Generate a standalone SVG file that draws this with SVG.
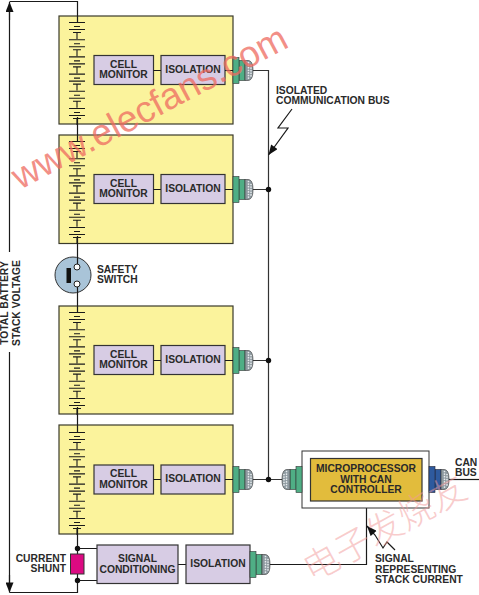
<svg xmlns="http://www.w3.org/2000/svg" width="479" height="595" viewBox="0 0 479 595">
<style>
text{font-family:"Liberation Sans",Arial,sans-serif;font-weight:bold;font-size:10.300px;fill:#2a2a2a}
.m{text-anchor:middle}
.e{text-anchor:end}
.mod{fill:#FBF39C;stroke:#3a3a2a;stroke-width:1.200}
.pb{fill:#D7CCE4;stroke:#333;stroke-width:1.200}
.w{fill:none;stroke:#1a1a1a;stroke-width:1.200}
.cl{stroke:#1a1a1a;stroke-width:1.100;fill:none}
.bus{fill:none;stroke:#333;stroke-width:1.200}
.dot{fill:#111}
.dome{fill:#8E9AA0;stroke:#333;stroke-width:.6}
.dots{stroke:#e8ecee;stroke-width:1.700;stroke-dasharray:0 2.600;stroke-linecap:round;fill:none}
text.wm{font-family:"Liberation Sans",Arial,sans-serif;font-weight:normal;font-size:37px;fill:#EE6A60;fill-opacity:.75}
text.wc{font-family:"Noto Sans CJK SC",sans-serif;font-weight:200;font-size:36px;fill:#F29A9A;fill-opacity:.5}
</style>
<defs>
<g id="cell">
<path class="cl" d="M69 0.500H85M74 4.500H80M69 7.500H85M73 10.500H81M77 10.500V17"/>
</g>
<g id="cells">
<use href="#cell" y="0"/><use href="#cell" y="17.200"/><use href="#cell" y="34.400"/><use href="#cell" y="51.600"/><use href="#cell" y="68.800"/><use href="#cell" y="86"/>
</g>
<g id="conn">
<rect x="6" y="-10" width="6" height="20" fill="#4FAE85" stroke="#333" stroke-width=".6"/>
<rect x="0" y="-13" width="6" height="26" fill="#4FAE85" stroke="#333" stroke-width=".6"/>
<path class="dome" d="M12-10H15C19-10 20-5 20 0C20 5 19 10 15 10H12Z"/>
<path class="dots" d="M15.500-8V8M18-5V6"/>
</g>
<g id="connb">
<rect x="6" y="-10" width="6" height="20" fill="#2E5A9E" stroke="#223" stroke-width=".6"/>
<rect x="0" y="-13" width="6" height="26" fill="#2E5A9E" stroke="#223" stroke-width=".6"/>
<path class="dome" d="M12-10H15C19-10 20-5 20 0C20 5 19 10 15 10H12Z"/>
<path class="dots" d="M15.500-8V8M18-5V6"/>
</g>
<marker id="arr" viewBox="0 0 10 8" refX="10" refY="4" markerWidth="11" markerHeight="8" markerUnits="userSpaceOnUse" orient="auto"><path d="M0 0L10 4L0 8Z" fill="#111"/></marker>
</defs>

<g id="module1">
<rect class="mod" x="59" y="16" width="174" height="108"/>
<use href="#cells" y="22"/>
<rect class="pb" x="94" y="55.500" width="59.500" height="29"/><text class="m" x="123.500" y="68">CELL</text><text class="m" x="123.500" y="78">MONITOR</text>
<rect class="pb" x="161" y="55.500" width="64" height="29"/><text class="m" x="193" y="73">ISOLATION</text>
<use href="#conn" x="233" y="70.500"/>
</g>
<g id="module2">
<rect class="mod" x="59" y="135" width="174" height="108.500"/>
<use href="#cells" y="141"/>
<rect class="pb" x="94" y="174.500" width="59.500" height="29"/><text class="m" x="123.500" y="187">CELL</text><text class="m" x="123.500" y="197">MONITOR</text>
<rect class="pb" x="161" y="174.500" width="64" height="29"/><text class="m" x="193" y="192">ISOLATION</text>
<use href="#conn" x="233" y="189.500"/>
</g>
<g id="module3">
<rect class="mod" x="59" y="306" width="174" height="108"/>
<use href="#cells" y="312"/>
<rect class="pb" x="94" y="345.500" width="59.500" height="29"/><text class="m" x="123.500" y="358">CELL</text><text class="m" x="123.500" y="368">MONITOR</text>
<rect class="pb" x="161" y="345.500" width="64" height="29"/><text class="m" x="193" y="363">ISOLATION</text>
<use href="#conn" x="233" y="360.500"/>
</g>
<g id="module4">
<rect class="mod" x="59" y="425" width="174" height="109"/>
<use href="#cells" y="432"/>
<rect class="pb" x="94" y="465" width="59.500" height="29"/><text class="m" x="123.500" y="477">CELL</text><text class="m" x="123.500" y="488">MONITOR</text>
<rect class="pb" x="161" y="465" width="64" height="29"/><text class="m" x="193" y="482">ISOLATION</text>
<use href="#conn" x="233" y="479.500"/>
</g>

<g id="connectors">
<path class="w" d="M9.500 252V4M9.500 352V591M9.500 1.500H77.500V22M9.500 592.500H77.500V574M77.500 554V527M77.500 236V312M77.500 407V432M77.500 117V141"/>
<path class="w" marker-end="url(#arr)" d="M9.500 20V2"/>
<path class="w" marker-end="url(#arr)" d="M9.500 575V592.500"/>
<path class="w" d="M153.500 70.500H161M225 70.500H233M153.500 189.500H161M225 189.500H233M153.500 360.500H161M225 360.500H233M153.500 479.500H161M225 479.500H233"/>
<path class="bus" d="M253 70.500H268.500V479.500M253 189.500H268.500M253 360.500H268.500M253 479.500H283"/>
<path class="w" d="M77 548.500H97M77 580.500H97M178 564.500H186M270 564.500H366.500V501"/>
<path class="w" d="M448 479.500H479"/>
<path class="w" marker-end="url(#arr)" d="M292 109L278 128L288 128L268.500 155"/>
<path class="w" marker-end="url(#arr)" d="M395 550L387 542L383 548L375 535L367 526"/>
<circle class="dot" cx="268.500" cy="189.500" r="2.700"/><circle class="dot" cx="268.500" cy="360.500" r="2.700"/><circle class="dot" cx="268.500" cy="479.500" r="2.700"/>
<circle class="dot" cx="77.500" cy="548.500" r="2.700"/><circle class="dot" cx="77.500" cy="580.500" r="2.700"/>
</g>

<g id="safety-switch">
<circle cx="73" cy="275" r="18" fill="#A9C4D8" stroke="#333" stroke-width="1"/>
<rect x="66.500" y="268" width="4.500" height="15" fill="#111"/>
<path class="w" d="M77.500 257V264M77.500 287V293"/>
<circle cx="77" cy="267" r="3" fill="#fff" stroke="#222"/><circle cx="77" cy="284" r="3" fill="#fff" stroke="#222"/>
<text x="97" y="273">SAFETY</text><text x="97" y="283">SWITCH</text>
</g>
<g id="current-shunt">
<rect x="70.500" y="554" width="13.500" height="20" fill="#DC0A82" stroke="#333" stroke-width="1"/>
<text class="e" x="66" y="562">CURRENT</text><text class="e" x="66" y="572">SHUNT</text>
</g>
<g id="signal-conditioning">
<rect class="pb" x="97" y="545" width="81" height="38.500"/>
<text class="m" x="137.500" y="562">SIGNAL</text><text class="m" x="137.500" y="573">CONDITIONING</text>
</g>
<g id="isolation5">
<rect class="pb" x="186" y="545" width="64" height="38.500"/>
<text class="m" x="218" y="567">ISOLATION</text>
<use href="#conn" x="250" y="564.500"/>
</g>
<g id="microprocessor">
<rect x="302" y="451" width="127" height="57" fill="#fff" stroke="#333" stroke-width="1"/>
<rect x="310.500" y="458.500" width="111.500" height="42.500" fill="#E2BC3C" stroke="#333" stroke-width="1.200"/>
<text class="m" x="366" y="472">MICROPROCESSOR</text><text class="m" x="366" y="483">WITH CAN</text><text class="m" x="366" y="493">CONTROLLER</text>
<use href="#conn" transform="translate(302 479.500) scale(-1 1)"/>
<use href="#connb" x="429" y="479.500"/>
</g>
<g id="labels">
<text x="276" y="94">ISOLATED</text><text x="276" y="104">COMMUNICATION BUS</text>
<text x="455" y="466">CAN</text><text x="455" y="476">BUS</text>
<text x="375" y="562">SIGNAL</text><text x="375" y="572.500">REPRESENTING</text><text x="375" y="583">STACK CURRENT</text>
<text class="m" transform="translate(8 303) rotate(-90)">TOTAL BATTERY</text>
<text class="m" transform="translate(19.500 303) rotate(-90)">STACK VOLTAGE</text>
</g>
<g id="watermark">
<text class="wm" transform="translate(20 190) rotate(-28)">www.elecfans.com</text>
<text class="wc" transform="translate(312 583) rotate(-29)">电子发烧友</text>
</g>
</svg>
